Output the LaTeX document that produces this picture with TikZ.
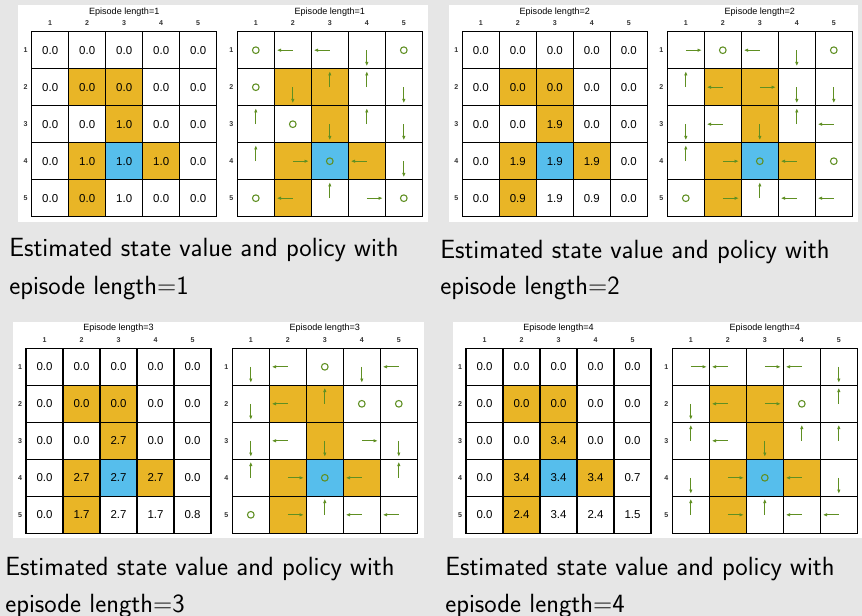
\documentclass[tikz,border=0pt]{standalone}
\usepackage{fontspec}
\usepackage{xcolor}
\usetikzlibrary{arrows.meta}
\newfontfamily\gridfont{Liberation Sans}
\definecolor{slate}{HTML}{E6E6E6}
\definecolor{wallc}{HTML}{E9B526}
\definecolor{goalc}{HTML}{56BEEC}
\definecolor{leaf}{HTML}{5F8F22}
\tikzset{
  % white card behind a pair of grids
  card/.style={fill=white, draw=none},
  % grid cells and lines
  wallcell/.style={fill=wallc},
  goalcell/.style={fill=goalc},
  gridline/.style={draw=black, line width=1.1pt, line cap=rect},
  % texts
  gridtitle/.style={font=\gridfont\fontsize{6.8}{8}\selectfont, inner sep=0pt},
  axislbl/.style={font=\gridfont\bfseries\fontsize{5.3}{6}\selectfont, text=black!80, inner sep=0pt},
  valtxt/.style={font=\gridfont\fontsize{8.6}{10}\selectfont, inner sep=0pt},
  captxt/.style={font=\sffamily\fontsize{19.75}{23}\selectfont, anchor=base west, inner sep=0pt},
  % actions of the policy
  move/.style={draw=leaf, line width=0.8pt, -{Latex[length=3.2pt,width=2.6pt]}},
  stay/.style={draw=leaf, line width=0.8pt},
}
\newcommand{\actu}[1]{\draw[move] (#1) -- ++(0,-16);}
\newcommand{\actd}[1]{\draw[move] (#1) -- ++(0,16);}
\newcommand{\actl}[1]{\draw[move] (#1) -- ++(-16,0);}
\newcommand{\actr}[1]{\draw[move] (#1) -- ++(16,0);}
\newcommand{\acto}[1]{\draw[stay] (#1) circle[radius=2.5pt];}
% left, top, title, name
\newcommand{\gridframe}[4]{%
  \foreach \wr/\wc in {2/2,2/3,3/3,4/2,4/4,5/2}
    \fill[wallcell] (#1+\wc*37-37,#2+\wr*37-37) rectangle ++(37,37);
  \fill[goalcell] (#1+74,#2+111) rectangle ++(37,37);
  \foreach \i in {0,...,5} {
    \draw[gridline] (#1+\i*37,#2) -- ++(0,185);
    \draw[gridline] (#1,#2+\i*37) -- ++(185,0);}
  \node[gridtitle] (#4) at (#1+92.5,#2-20) {#3};
  \foreach \i in {1,...,5} {
    \node[axislbl] (#4c\i) at (#1+\i*37-18.5,#2-8.4) {\i};
    \node[axislbl] (#4r\i) at (#1-6,#2+\i*37-18.5) {\i};}}
\newcommand{\valuegrid}[5]{%
  \gridframe{#1}{#2}{#3}{#4}
  \foreach \v [count=\k from 0] in {#5} {
    \pgfmathtruncatemacro{\vrow}{div(\k,5)}
    \pgfmathtruncatemacro{\vcol}{mod(\k,5)}
    \node[valtxt] (#4-\k) at (#1+\vcol*37+18.5,#2+\vrow*37+18.5) {\v};}}
\newcommand{\policygrid}[5]{%
  \gridframe{#1}{#2}{#3}{#4}
  \foreach \mv [count=\k from 0] in {#5} {
    \pgfmathtruncatemacro{\vrow}{div(\k,5)}
    \pgfmathtruncatemacro{\vcol}{mod(\k,5)}
    \coordinate (#4-\k) at (#1+\vcol*37+18.5,#2+\vrow*37+18.5);
    \csname act\mv\endcsname{#4-\k}}}

\begin{document}
\begin{tikzpicture}[x=0.75pt, y=-0.75pt]

  \useasboundingbox (0,0) rectangle (862,616);
  \fill[slate] (0,0) rectangle (862,616);

  \fill[card] (18,5) rectangle (428,222);
  \fill[card] (449,5) rectangle (858,222);
  \fill[card] (12.7,322) rectangle (424.3,538);
  \fill[card] (452.7,322) rectangle (862,538);

  \valuegrid{31.7}{31.7}{Episode length=1}{va}
    {0.0,0.0,0.0,0.0,0.0, 0.0,0.0,0.0,0.0,0.0, 0.0,0.0,1.0,0.0,0.0, 0.0,1.0,1.0,1.0,0.0, 0.0,0.0,1.0,0.0,0.0}
  \policygrid{237.3}{31.7}{Episode length=1}{pa}
    {o,l,l,d,o,o,d,u,u,d,u,o,d,u,d,u,r,o,l,d,o,l,u,r,o}

  \valuegrid{462.3}{31.7}{Episode length=2}{vb}
    {0.0,0.0,0.0,0.0,0.0, 0.0,0.0,0.0,0.0,0.0, 0.0,0.0,1.9,0.0,0.0, 0.0,1.9,1.9,1.9,0.0, 0.0,0.9,1.9,0.9,0.0}
  \policygrid{667.3}{31.7}{Episode length=2}{pb}
    {r,o,l,d,o,u,l,r,d,d,d,l,d,u,l,u,r,o,l,o,o,r,u,l,l}

  \valuegrid{26}{348.3}{Episode length=3}{vc}
    {0.0,0.0,0.0,0.0,0.0, 0.0,0.0,0.0,0.0,0.0, 0.0,0.0,2.7,0.0,0.0, 0.0,2.7,2.7,2.7,0.0, 0.0,1.7,2.7,1.7,0.8}
  \policygrid{232.3}{348.3}{Episode length=3}{pc}
    {d,l,o,d,l,d,l,u,o,o,d,l,d,r,d,u,r,o,l,u,o,r,u,l,l}

  \valuegrid{466}{348.3}{Episode length=4}{vd}
    {0.0,0.0,0.0,0.0,0.0, 0.0,0.0,0.0,0.0,0.0, 0.0,0.0,3.4,0.0,0.0, 0.0,3.4,3.4,3.4,0.7, 0.0,2.4,3.4,2.4,1.5}
  \policygrid{672.3}{348.3}{Episode length=4}{pd}
    {r,l,r,l,d,d,l,r,o,u,u,l,d,u,u,d,r,o,l,d,u,r,u,l,l}

  \node[captxt] (capa1) at (9,257) {Estimated state value and policy with};
  \node[captxt] (capa2) at (9,294) {episode length=1};
  \node[captxt] (capb1) at (440,258) {Estimated state value and policy with};
  \node[captxt] (capb2) at (440,294) {episode length=2};
  \node[captxt] (capc1) at (5,575) {Estimated state value and policy with};
  \node[captxt] (capc2) at (5,612) {episode length=3};
  \node[captxt] (capd1) at (445,575) {Estimated state value and policy with};
  \node[captxt] (capd2) at (445,612) {episode length=4};

\end{tikzpicture}
\end{document}
